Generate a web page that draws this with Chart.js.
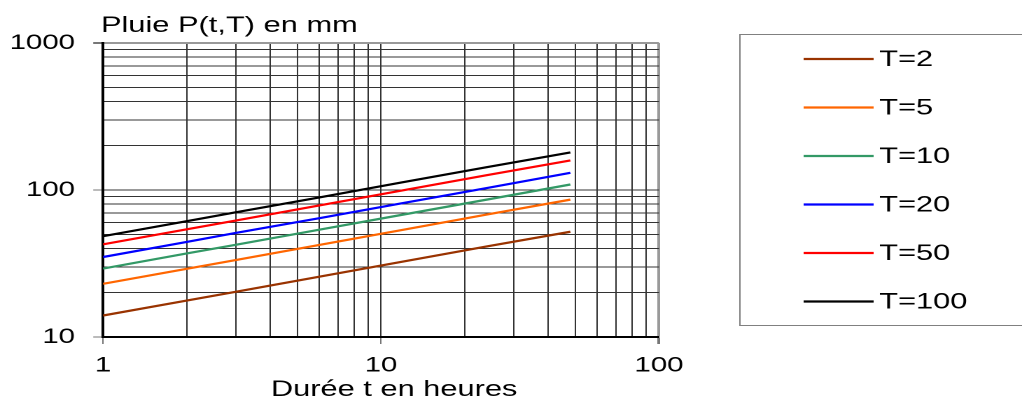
<!DOCTYPE html>
<html>
<head>
<meta charset="utf-8">
<script src="https://cdn.jsdelivr.net/npm/chart.js@4.4.1/dist/chart.umd.min.js"></script>
<style>
  body { margin: 0; background: #fff; }
</style>
</head>
<body>
<!-- le graphique d'origine est étiré horizontalement (~1.4x) : style inline pour que Chart.js le garde -->
<canvas id="pluie" width="730" height="400" style="display:block;width:1022px;height:400px"></canvas>
<script>
// --- Données ---
const durations = [1, 2, 3, 6, 12, 24, 48]; // heures
const seriesNames = ['T=2', 'T=5', 'T=10', 'T=20', 'T=50', 'T=100'];
const pT2   = [14.0, 17.7, 20.3, 25.7, 32.6, 41.3, 52];
const pT5   = [23.0, 29.1, 33.4, 42.3, 53.6, 68.0, 86];
const pT10  = [29.2, 37.0, 42.4, 53.7, 68.0, 86.0, 109];
const pT20  = [35.0, 44.3, 51.0, 64.3, 81.5, 103, 131];
const pT50  = [42.7, 54.0, 62.0, 78.5, 99.5, 126, 159];
const pT100 = [48.5, 61.4, 70.5, 89.0, 113, 143, 180];
const seriesColors = ['#993300', '#FF6600', '#339966', '#0000FF', '#FF0000', '#000000'];

// graduations (grille log) et étiquettes
const xTicks = [1, 2, 3, 4, 5, 6, 7, 8, 9, 10, 20, 30, 40, 50, 60, 70, 80, 90, 100];
const yTicks = [10, 20, 30, 40, 50, 60, 70, 80, 90, 100, 200, 300, 400, 500, 600, 700, 800, 900, 1000];
const xLabels = [1, 10, 100];
const yLabels = [10, 100, 1000];

const FONT = 'Arial, "Liberation Sans", sans-serif';
const allSeries = [pT2, pT5, pT10, pT20, pT50, pT100];

const datasets = allSeries.map((values, i) => ({
    label: seriesNames[i],
    data: values.map((v, k) => ({ x: durations[k], y: v })),
    borderColor: seriesColors[i],
    borderWidth: 2.2,
    pointRadius: 0,
    tension: 0,
    fill: false
}));

// Titres des axes + légende encadrée (dessinés à la main)
const extrasPlugin = {
    id: 'extras',
    afterDraw(chart) {
        const c = chart.ctx;
        const area = chart.chartArea;
        c.save();
        c.fillStyle = '#000';
        c.font = '22px ' + FONT;
        c.textAlign = 'left';
        c.textBaseline = 'alphabetic';
        c.fillText('Pluie P(t,T) en mm', area.left - 1.5, 32);

        // titre X, un peu décalé à droite comme sur l'original
        c.textAlign = 'center';
        c.fillText('Durée t en heures', 281.5, 396);

        // cadre de la légende
        c.textAlign = 'left';
        c.strokeStyle = '#808080';
        c.lineWidth = 1;
        c.strokeRect(528.5, 34.5, 240, 291);

        chart.data.datasets.forEach((ds, i) => {
            const y = 59 + i * 48.5;
            c.strokeStyle = ds.borderColor;
            c.lineWidth = 2.2;
            c.beginPath();
            c.moveTo(574, y);
            c.lineTo(624, y);
            c.stroke();
            c.fillStyle = '#000';
            c.textBaseline = 'middle';
            c.fillText(ds.label, 628, y + 1);
        });
        c.restore();
    }
};

const chart = new Chart(document.getElementById('pluie'), {
    type: 'line',
    data: { datasets: datasets },
    options: {
        responsive: false,
        animation: false,
        devicePixelRatio: 2,
        layout: { padding: { left: 0, top: 43, right: 259.3, bottom: 0 } },
        plugins: {
            legend: { display: false },
            title: { display: false },
            tooltip: { enabled: false }
        },
        scales: {
            x: {
                type: 'logarithmic',
                min: 1,
                max: 100,
                afterBuildTicks: (scale) => { scale.ticks = xTicks.map(v => ({ value: v })); },
                afterFit: (scale) => { scale.height = 63; },
                border: { color: '#000', width: 2 },
                grid: {
                    color: (ctx) => ctx.tick && ctx.tick.value === 100 ? '#999' : '#333',
                    lineWidth: (ctx) => ctx.tick && ctx.tick.value === 100 ? 2 : 1,
                    tickLength: 7,
                    tickColor: (ctx) => xLabels.includes(ctx.tick.value) ? '#777' : 'rgba(0,0,0,0)'
                },
                ticks: {
                    autoSkip: false,
                    maxRotation: 0,
                    padding: 9,
                    color: '#000',
                    font: { family: FONT, size: 21 },
                    callback: (v) => xLabels.includes(v) ? String(v) : ''
                }
            },
            y: {
                type: 'logarithmic',
                min: 10,
                max: 1000,
                afterBuildTicks: (scale) => { scale.ticks = yTicks.map(v => ({ value: v })); },
                afterFit: (scale) => { scale.width = 73.6; },
                border: { color: '#000', width: 2 },
                grid: {
                    color: (ctx) => ctx.tick && ctx.tick.value === 1000 ? '#999' : '#333',
                    lineWidth: (ctx) => ctx.tick && ctx.tick.value === 1000 ? 2 : 1,
                    tickLength: 7,
                    tickColor: (ctx) => yLabels.includes(ctx.tick.value) ? '#777' : 'rgba(0,0,0,0)'
                },
                ticks: {
                    autoSkip: false,
                    padding: 13,
                    color: '#000',
                    font: { family: FONT, size: 21 },
                    callback: (v) => yLabels.includes(v) ? String(v) : ''
                }
            }
        }
    },
    plugins: [extrasPlugin]
});
</script>
</body>
</html>
